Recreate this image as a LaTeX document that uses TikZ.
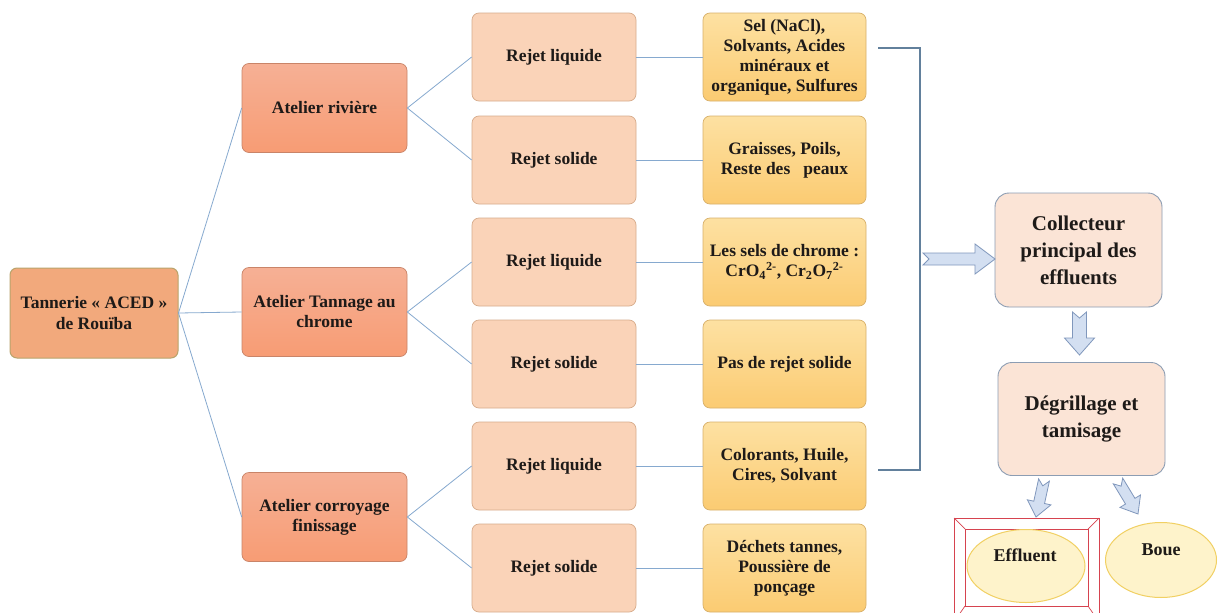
\documentclass[tikz,border=0pt]{standalone}
\usepackage{fontspec}
\setmainfont{Liberation Serif}
\usetikzlibrary{calc,shapes.geometric}
\definecolor{txt}{HTML}{1E1A18}
\definecolor{conn}{HTML}{86A9CF}
\definecolor{brk}{HTML}{62809C}
\definecolor{rootfill}{HTML}{F2A97C}
\definecolor{rootdraw}{HTML}{B9A46C}
\definecolor{aTop}{HTML}{F6B095}
\definecolor{aBot}{HTML}{F79C74}
\definecolor{aDraw}{HTML}{C98468}
\definecolor{rFill}{HTML}{FAD3B8}
\definecolor{rDraw}{HTML}{D7AC8C}
\definecolor{yTop}{HTML}{FDE1A2}
\definecolor{yBot}{HTML}{FBCB72}
\definecolor{yDraw}{HTML}{D8B06A}
\definecolor{cFill}{HTML}{FBE4D6}
\definecolor{cDraw}{HTML}{8C9DB3}
\definecolor{arFill}{HTML}{D3DFF1}
\definecolor{arDraw}{HTML}{8097BC}
\definecolor{eFill}{HTML}{FEF3CB}
\definecolor{eDraw}{HTML}{F1D063}
\definecolor{frame}{HTML}{D6434F}
\tikzset{
  x=1pt, y=-1pt,
  box/.style={rounded corners=7pt, align=center, font=\fontsize{17.5}{20}\selectfont\bfseries, text=txt, inner sep=1pt, line width=0.7pt},
  rootbox/.style={box, fill=rootfill, draw=rootdraw, minimum width=168pt, minimum height=90pt, line width=1pt, font=\fontsize{17.5}{21}\selectfont\bfseries},
  atbox/.style={box, top color=aTop, bottom color=aBot, draw=aDraw, minimum width=165pt, minimum height=89pt},
  rjbox/.style={box, fill=rFill, draw=rDraw, minimum width=164pt, minimum height=88pt},
  ylbox/.style={box, top color=yTop, bottom color=yBot, draw=yDraw, minimum width=163pt, minimum height=88pt},
  clbox/.style={box, rounded corners=14pt, fill=cFill, draw=cDraw, minimum width=167pt, minimum height=114pt, font=\fontsize{21}{27}\selectfont\bfseries, line width=0.9pt},
  ell/.style={ellipse, fill=eFill, draw=eDraw, line width=1pt},
  elltxt/.style={font=\fontsize{18}{20}\selectfont\bfseries, text=txt},
  link/.style={draw=conn, line width=0.8pt},
  bar/.style={draw=brk, line width=1.3pt},
  blk/.style={fill=arFill, draw=arDraw, line width=0.8pt, line join=miter},
}
\newcommand\blockarr[5]{% start, end, half shaft, half head, head length
  \coordinate (ah) at ($(#2)!#5pt!(#1)$);
  \coordinate (an) at ($(#1)!6pt!(#2)$);
  \path[blk] ($(#1)!#3pt!90:(#2)$) -- ($(ah)!#3pt!-90:(#1)$) -- ($(ah)!#4pt!-90:(#1)$) -- (#2)
    -- ($(ah)!#4pt!90:(#1)$) -- ($(ah)!#3pt!90:(#1)$) -- ($(#1)!#3pt!-90:(#2)$) -- (an) -- cycle;}
\begin{document}
\begin{tikzpicture}
\useasboundingbox[fill=white] (0,0) rectangle (1218,613);
% root
\node[rootbox] (root) at (94,313) {Tannerie « ACED »\\de Rouïba};
% level 1
\node[atbox] (a1) at (324.5,108) {Atelier rivière};
\node[atbox] (a2) at (324.5,312) {Atelier Tannage au\\chrome};
\node[atbox] (a3) at (324.5,517) {Atelier corroyage\\finissage};
% level 2
\node[rjbox] (r1) at (554,57) {Rejet liquide};
\node[rjbox] (r2) at (554,160) {Rejet solide};
\node[rjbox] (r3) at (554,262) {Rejet liquide};
\node[rjbox] (r4) at (554,364) {Rejet solide};
\node[rjbox] (r5) at (554,466) {Rejet liquide};
\node[rjbox] (r6) at (554,568) {Rejet solide};
% level 3
\node[ylbox] (y1) at (784.5,57) {Sel (NaCl),\\Solvants, Acides\\minéraux et\\organique, Sulfures};
\node[ylbox] (y2) at (784.5,160) {Graisses, Poils,\\Reste des\ \ \ peaux};
\node[ylbox] (y3) at (784.5,262) {Les sels de chrome :\\CrO\textsubscript{4}\textsuperscript{2-}, Cr\textsubscript{2}O\textsubscript{7}\textsuperscript{2-}};
\node[ylbox] (y4) at (784.5,364) {Pas de rejet solide};
\node[ylbox] (y5) at (784.5,466) {Colorants, Huile,\\Cires, Solvant};
\node[ylbox] (y6) at (784.5,568) {Déchets tannes,\\Poussière de\\ponçage};
% right side
\node[clbox] (col) at (1078.5,250) {Collecteur\\principal des\\effluents};
\node[clbox, minimum height=113pt] (deg) at (1081.5,419) {Dégrillage et\\tamisage};
% effluent frame
\draw[frame, line width=0.9pt] (954,518) rectangle (1099,622);
\draw[frame, line width=0.9pt] (965,529) rectangle (1088,606);
\draw[frame, line width=0.7pt] (954,518) -- (965,529) (1099,518) -- (1088,529) (954,622) -- (965,606) (1099,622) -- (1088,606);
\node[ell, minimum width=118pt, minimum height=73pt] (eff) at (1026,566) {};
\node[elltxt] (efft) at (1025,555) {Effluent};
\node[ell, minimum width=111pt, minimum height=75pt] (boue) at (1161,560) {};
\node[elltxt] (bouet) at (1161,550) {Boue};
% connectors
\foreach \a in {a1,a2,a3} \draw[link] (root.east) -- (\a.west);
\draw[link] (a1.east) -- (r1.west); \draw[link] (a1.east) -- (r2.west);
\draw[link] (a2.east) -- (r3.west); \draw[link] (a2.east) -- (r4.west);
\draw[link] (a3.east) -- (r5.west); \draw[link] (a3.east) -- (r6.west);
\foreach \i in {1,...,6} \draw[link] (r\i.east) -- (y\i.west);
% bracket
\coordinate (bt) at (878,48);
\coordinate (bb) at (878,470);
\draw[bar] (bt) -- (920,48) -- (920,470) -- (bb);
% block arrows
\coordinate (s1) at (923,259); \coordinate (e1) at (995,259);
\blockarr{s1}{e1}{6}{15}{20}
\coordinate (s2) at (1079.5,312); \coordinate (e2) at (1079.5,355);
\blockarr{s2}{e2}{7}{15}{17}
\coordinate (s3) at (1044,480); \coordinate (e3) at (1036,517);
\blockarr{s3}{e3}{5.5}{12}{15}
\coordinate (s4) at (1118,481); \coordinate (e4) at (1138,514);
\blockarr{s4}{e4}{5.5}{12}{15}
\end{tikzpicture}
\end{document}
